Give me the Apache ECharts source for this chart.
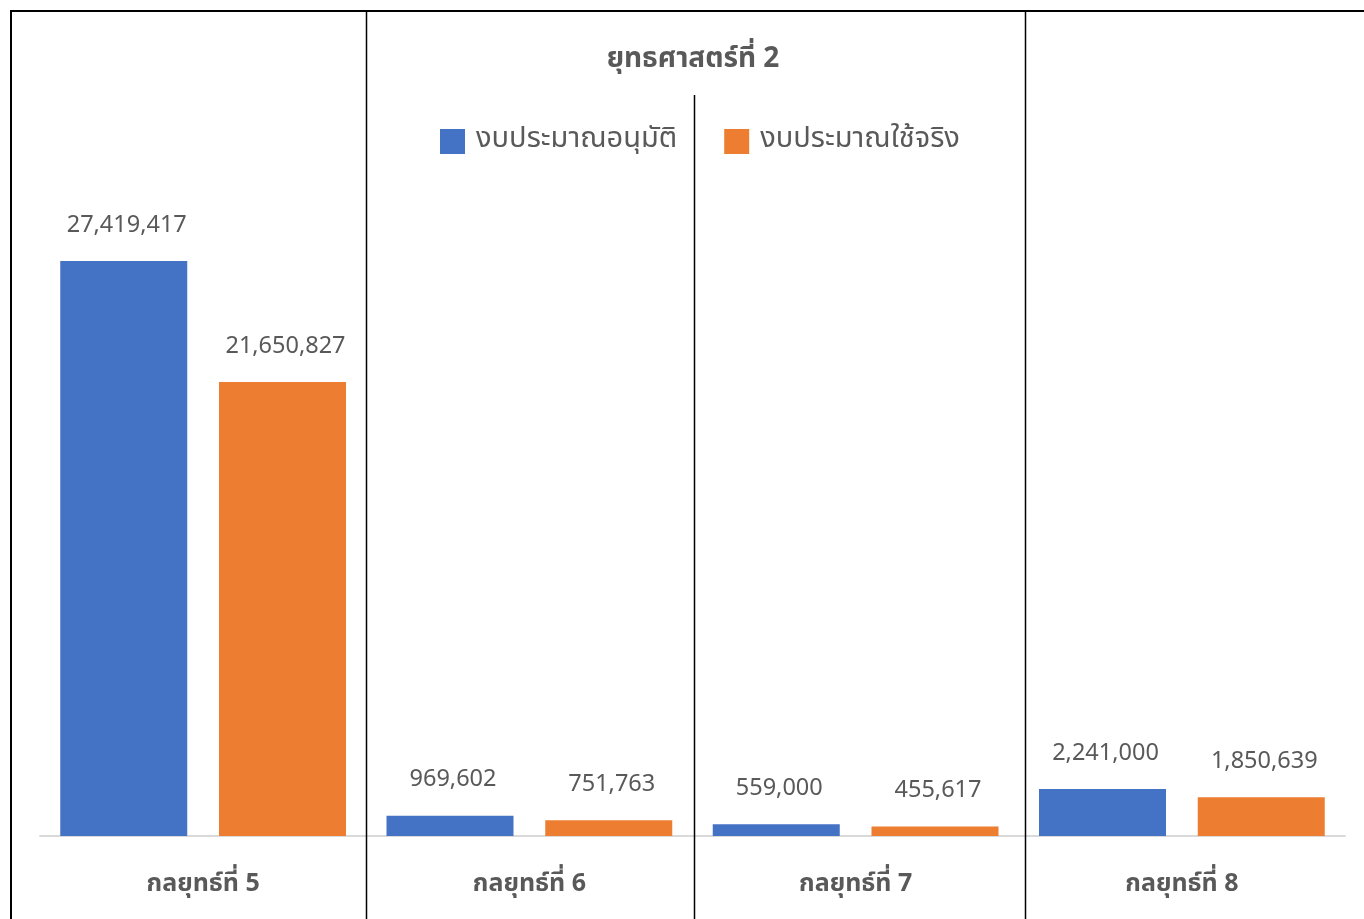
<!DOCTYPE html>
<html>
<head>
<meta charset="utf-8">
<script src="https://cdn.jsdelivr.net/npm/echarts@6/dist/echarts.min.js"></script>
<style>
html,body{margin:0;padding:0;background:#fff;}
#chart{width:1364px;height:919px;}
</style>
</head>
<body>
<div id="chart"></div>
<script>
const titleText = 'ยุทธศาสตร์ที่ 2';
const categories = ['กลยุทธ์ที่ 5', 'กลยุทธ์ที่ 6', 'กลยุทธ์ที่ 7', 'กลยุทธ์ที่ 8'];
const seriesNames = ['งบประมาณอนุมัติ', 'งบประมาณใช้จริง'];
const approved = [27419417, 969602, 559000, 2241000];
const actual = [21650827, 751763, 455617, 1850639];

const FONT = '"Noto Sans Thai", "Noto Sans", Tahoma, sans-serif';
const TXT = '#595959';
const fmt = v => Number(v).toLocaleString('en-US');

const chart = echarts.init(document.getElementById('chart'));
chart.setOption({
  backgroundColor: '#ffffff',
  animation: false,
  title: {
    text: titleText,
    left: 688, textAlign: 'center', top: 42,
    textStyle: { fontFamily: FONT, fontSize: 28, fontWeight: 'bold', color: TXT }
  },
  legend: {
    data: seriesNames,
    left: 440, top: 127, padding: 0,
    itemWidth: 25, itemHeight: 25, itemGap: 47,
    icon: 'rect',
    textStyle: { fontFamily: FONT, fontSize: 29, color: TXT, padding: [0, 0, 0, 6] }
  },
  grid: { left: 40, right: 19, top: 207, bottom: 83, containLabel: false },
  xAxis: {
    type: 'category',
    data: categories,
    axisLine: { lineStyle: { color: '#D9D9D9', width: 2 } },
    axisTick: { show: false },
    axisLabel: { fontFamily: FONT, fontSize: 25, fontWeight: 'bold', color: TXT, margin: 37 }
  },
  yAxis: {
    type: 'value', min: 0, max: 30000000, interval: 5000000,
    show: false, splitLine: { show: false }
  },
  series: [
    {
      name: seriesNames[0], type: 'bar', data: approved,
      itemStyle: { color: '#4472C4' },
      barWidth: 127, barGap: '25%',
      label: { show: true, position: 'top', distance: 22, offset: [3, 0], formatter: p => fmt(p.value),
        fontFamily: FONT, fontSize: 23.5, color: TXT }
    },
    {
      name: seriesNames[1], type: 'bar', data: actual,
      itemStyle: { color: '#ED7D31' },
      barWidth: 127, barGap: '25%',
      label: { show: true, position: 'top', distance: 22, offset: [3, 0], formatter: p => fmt(p.value),
        fontFamily: FONT, fontSize: 23.5, color: TXT }
    }
  ],
  graphic: [
    { type: 'line', shape: { x1: 11, y1: 11, x2: 11, y2: 919 }, style: { stroke: '#000', lineWidth: 2 }, z: 10 },
    { type: 'line', shape: { x1: 10, y1: 11, x2: 1364, y2: 11 }, style: { stroke: '#000', lineWidth: 2 }, z: 10 },
    { type: 'line', shape: { x1: 366.5, y1: 12, x2: 366.5, y2: 919 }, style: { stroke: '#000', lineWidth: 1.5 }, z: 10 },
    { type: 'line', shape: { x1: 694.5, y1: 95, x2: 694.5, y2: 919 }, style: { stroke: '#000', lineWidth: 1.5 }, z: 10 },
    { type: 'line', shape: { x1: 1025.5, y1: 12, x2: 1025.5, y2: 919 }, style: { stroke: '#000', lineWidth: 1.5 }, z: 10 }
  ]
});
</script>
</body>
</html>
